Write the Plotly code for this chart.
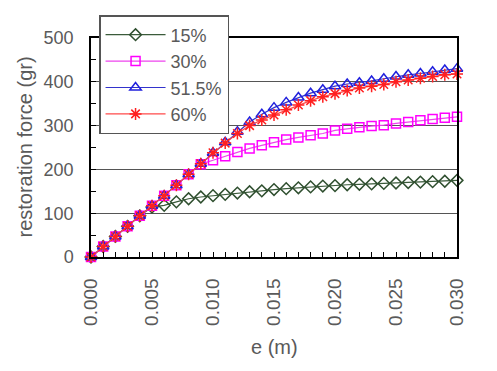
import plotly.graph_objects as go

e_m = [i / 1000 for i in range(31)]

f_15 = [0, 24, 47, 70, 94, 114, 118, 126, 133, 137, 140, 143, 146, 149, 151, 154,
        156, 158, 160, 162, 163, 165, 166, 167, 168, 169, 170, 171, 172, 173, 175]
f_30 = [0, 24, 47, 70, 94, 117, 140, 164, 189, 212, 221, 230, 240, 248, 255, 262,
        268, 273, 278, 282, 289, 293, 296, 299, 301, 305, 308, 312, 315, 318, 320]
f_515 = [0, 24, 47, 70, 94, 117, 140, 164, 189, 213, 238, 262, 286, 308, 326, 341,
         353, 364, 374, 382, 390, 395, 398, 402, 407, 412, 416, 419, 423, 427, 430]
f_60 = [0, 24, 47, 70, 94, 117, 140, 164, 189, 213, 238, 260, 282, 300, 313, 324,
        336, 347, 357, 366, 373, 380, 386, 390, 394, 400, 404, 408, 412, 416, 418]

series_names = ["15%", "30%", "51.5%", "60%"]
series_vals = [f_15, f_30, f_515, f_60]
colors = ["#2f4f2f", "#ff00ff", "#2020dd", "#ff2020"]
line_colors = ["#3b5b3b", "#ee44ee", "#3333cc", "#ff4a4a"]
symbols = ["diamond-open", "square-open", "triangle-up-open", "asterisk-open"]
sizes = [9, 9, 10, 10]

x_ticks = [0, 0.005, 0.010, 0.015, 0.020, 0.025, 0.030]
y_ticks = [0, 100, 200, 300, 400, 500]

fig = go.Figure()
for name, vals, c, lc, s, sz in zip(series_names, series_vals, colors, line_colors, symbols, sizes):
    fig.add_trace(go.Scatter(
        x=e_m, y=vals, name=name, mode="lines+markers",
        line=dict(color=lc, width=1.2),
        marker=dict(symbol=s, size=sz, color=c, line=dict(color=c, width=1.5)),
        cliponaxis=False,
    ))

font = "Liberation Sans, Arial, sans-serif"
txt = "#5a5a5a"

fig.update_layout(
    width=489, height=363,
    margin=dict(l=83, r=40, t=30, b=114, autoexpand=False),
    paper_bgcolor="white", plot_bgcolor="white",
    font=dict(family=font, color=txt, size=18),
    showlegend=True,
    legend=dict(
        x=0.022, y=1.105, xanchor="left", yanchor="top",
        bgcolor="white", bordercolor="#555555", borderwidth=1.5,
        font=dict(family=font, size=18, color=txt),
        tracegroupgap=0, itemwidth=60,
    ),
    xaxis=dict(
        range=[0, 0.030], tickvals=x_ticks, tickformat=".3f", automargin=False,
        tickangle=-90, tickfont=dict(size=19, color=txt),
        showgrid=False, zeroline=False,
        showline=True, linecolor="black", linewidth=1.5, mirror=True,
        ticks="inside", ticklen=5, tickcolor="black", tickwidth=1,
        minor=dict(dtick=0.001, ticks="inside", ticklen=5, tickcolor="black", showgrid=False),
        ticklabelstandoff=12,
    ),
    yaxis=dict(
        range=[0, 500], tickvals=y_ticks, automargin=False,
        tickfont=dict(size=18, color=txt),
        showgrid=True, gridcolor="#555555", gridwidth=1.2, zeroline=False,
        showline=True, linecolor="black", linewidth=1.5, mirror=True,
        ticks="inside", ticklen=5, tickcolor="black", tickwidth=1,
        minor=dict(dtick=50, ticks="inside", ticklen=5, tickcolor="black", showgrid=False),
        ticklabelstandoff=12,
    ),
    annotations=[
        dict(text="e (m)", xref="paper", yref="paper", x=0.5, y=-0.411,
             xanchor="center", yanchor="middle", showarrow=False,
             font=dict(size=20, color=txt, family=font)),
        dict(text="restoration force (gr)", xref="paper", yref="paper", x=-0.183, y=0.5,
             xanchor="center", yanchor="middle", showarrow=False, textangle=-90,
             font=dict(size=20, color=txt, family=font)),
    ],
)

fig.write_html("out.html")
